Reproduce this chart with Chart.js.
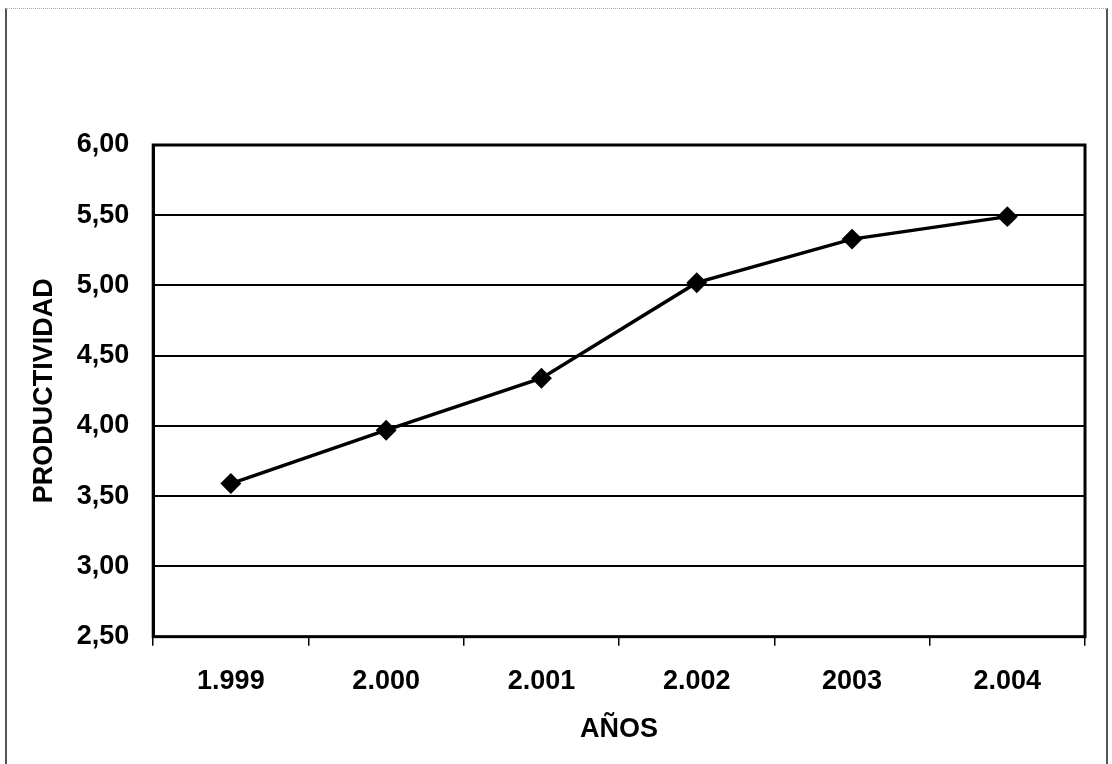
<!DOCTYPE html>
<html>
<head>
<meta charset="utf-8">
<script src="https://cdn.jsdelivr.net/npm/chart.js@4.4.1/dist/chart.umd.min.js"></script>
<style>
  html, body { margin: 0; padding: 0; background: #fff; }
  #wrap { position: relative; width: 1112px; height: 764px; }
  #frame {
    position: absolute; left: 5px; top: 8px; width: 1099px; height: 760px;
    border-left: 2px solid #555; border-right: 2px solid #555;
    border-top: 1px dotted #aaa; pointer-events: none;
  }
  canvas { position: absolute; left: 0; top: 0; }
</style>
</head>
<body>
<div id="wrap">
  <canvas id="chart" width="1112" height="764"></canvas>
  <div id="frame"></div>
</div>
<script>
const years = ["1.999", "2.000", "2.001", "2.002", "2003", "2.004"];
const productividad = [3.59, 3.97, 4.34, 5.02, 5.33, 5.49];
const yMin = 2.5;
const yMax = 6.0;
const yStep = 0.5;

const font = { family: "'Liberation Sans', Arial, sans-serif", size: 27, weight: "bold" };

// black border around the plot area
const plotBorder = {
  id: "plotBorder",
  afterDraw(chart) {
    const { ctx, chartArea: a } = chart;
    ctx.save();
    ctx.strokeStyle = "#000";
    ctx.lineWidth = 3;
    ctx.strokeRect(a.left, a.top, a.right - a.left, a.bottom - a.top);
    ctx.restore();
  }
};

new Chart(document.getElementById("chart"), {
  type: "line",
  data: {
    labels: years,
    datasets: [{
      data: productividad,
      borderColor: "#000",
      backgroundColor: "#000",
      borderWidth: 3.5,
      pointStyle: "rectRot",
      pointRadius: 8,
      pointHoverRadius: 8,
      tension: 0
    }]
  },
  options: {
    responsive: false,
    animation: false,
    layout: { padding: { left: 37, top: 145, right: 27, bottom: 23 } },
    plugins: { legend: { display: false }, tooltip: { enabled: false } },
    scales: {
      x: {
        offset: true,
        grid: { offset: true, drawOnChartArea: false, color: "#000", lineWidth: 1.5, tickLength: 9 },
        border: { color: "#000", width: 2 },
        ticks: { color: "#000", font: font, padding: 20, maxRotation: 0 },
        title: {
          display: true, text: "AÑOS", color: "#000",
          font: { ...font, lineHeight: 0.85 }, padding: { top: 0, bottom: 0 }
        }
      },
      y: {
        min: yMin,
        max: yMax,
        grid: { color: "#000", lineWidth: 2, drawTicks: false },
        border: { color: "#000", width: 3 },
        ticks: {
          stepSize: yStep,
          color: "#000",
          font: font,
          padding: 24,
          callback: v => v.toFixed(2).replace(".", ",")
        },
        title: {
          display: true, text: "PRODUCTIVIDAD", color: "#000",
          font: { ...font, lineHeight: 0.58 }, padding: { top: 0, bottom: 0 }
        }
      }
    }
  },
  plugins: [plotBorder]
});
</script>
</body>
</html>
